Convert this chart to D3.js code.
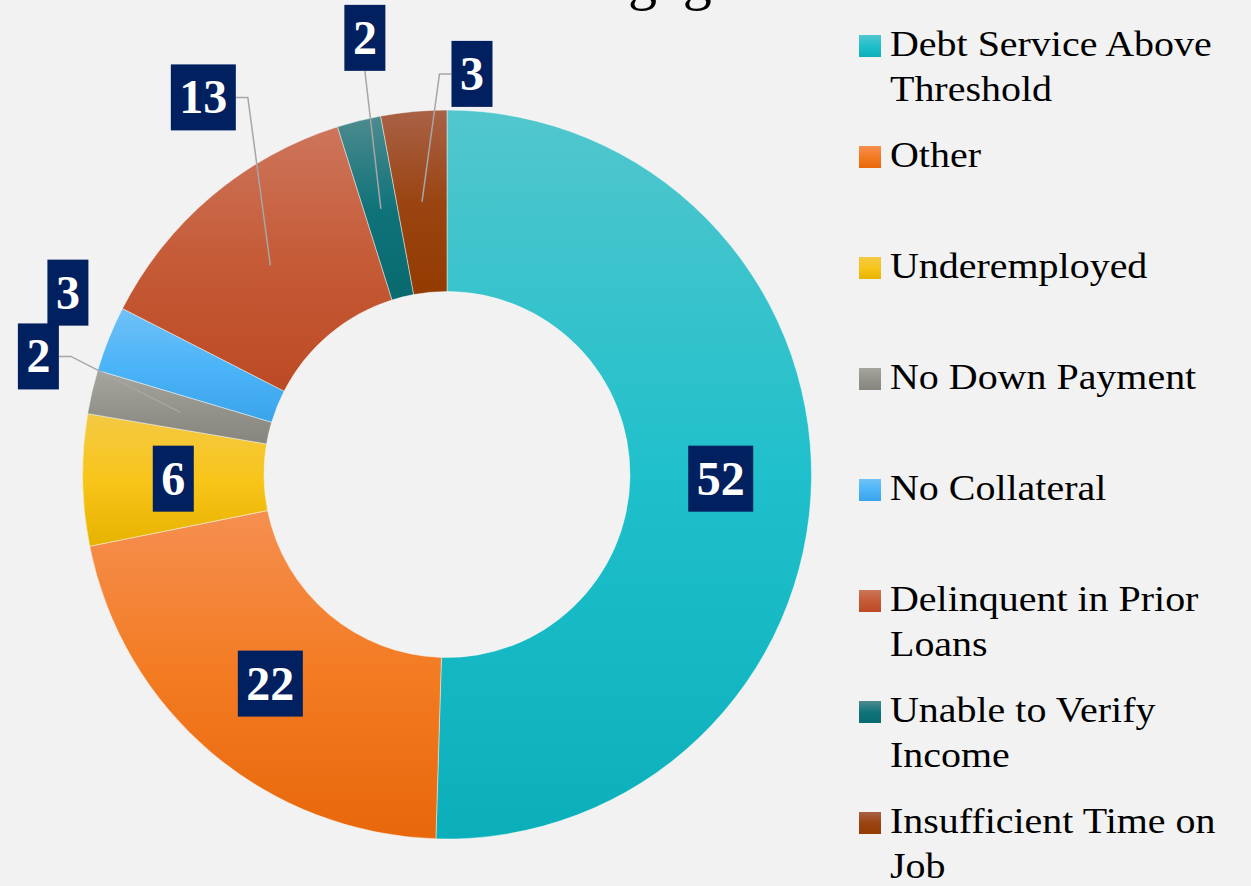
<!DOCTYPE html>
<html>
<head>
<meta charset="utf-8">
<script src="https://cdn.jsdelivr.net/npm/d3@7"></script>
<style>
  body { margin: 0; background: #f2f2f2; }
  svg { display: block; }
</style>
</head>
<body>
<script>
// chart data
const titleText = "Reasons for Mortgage Denials"
const legendLines = [
  ["Debt Service Above", "Threshold"],
  ["Other"],
  ["Underemployed"],
  ["No Down Payment"],
  ["No Collateral"],
  ["Delinquent in Prior", "Loans"],
  ["Unable to Verify", "Income"],
  ["Insufficient Time on", "Job"]
]
const categories = legendLines.map(l => l.join(" "))
const values = [52, 22, 6, 2, 3, 13, 2, 3]

// gradient colours per slice (top, middle, bottom)
const colorTop = ["#52c6cd", "#f58f50", "#f4c944", "#a6a59e", "#70c1f6", "#cd755c", "#4d8b8f", "#a96246"]
const colorMid = ["#1fc0cb", "#f37b22", "#f8c51a", "#94948c", "#4cb4f8", "#c55b37", "#10737a", "#9a4412"]
const colorBot = ["#0bafba", "#e8670b", "#e6b300", "#86867e", "#3aa4eb", "#bc4a24", "#086a6e", "#933b00"]

// manual offsets of the outside labels (from slice centroid)
const labelShift = [[0, 0], [0, 0], [0, 0], [-142, -56], [-125, -80], [-67, -168], [-16, -171], [50, -128]]
const showLeader = [false, false, false, true, false, true, true, true]

const width = 1251
const height = 886
const cx = 447
const cy = 474.5
const outerR = 364.5
const innerR = 183
const serif = "'Palatino Linotype', 'Book Antiqua', Palatino, 'Liberation Serif', serif"

let svg = d3.select('body')
  .append('svg')
  .attr('width', width)
  .attr('height', height)
  .style('background-color', '#f2f2f2')

let defs = svg.append('defs')
let grads = defs.selectAll('linearGradient')
  .data(values)
  .enter()
  .append('linearGradient')
  .attr('id', (d, i) => 'grad' + i)
  .attr('x1', 0).attr('y1', 0).attr('x2', 0).attr('y2', 1)
grads.append('stop').attr('offset', '0%').attr('stop-color', (d, i) => colorTop[i])
grads.append('stop').attr('offset', '50%').attr('stop-color', (d, i) => colorMid[i])
grads.append('stop').attr('offset', '100%').attr('stop-color', (d, i) => colorBot[i])

// title, mostly cut off above the top edge (as in the reference)
let title = svg.append('text')
  .attr('x', 0)
  .attr('y', -1)
  .style('font-family', serif)
  .style('font-size', '58px')
  .attr('fill', '#000')
  .text(titleText)
const gi = titleText.indexOf('gag')
const gx = title.node().getStartPositionOfChar(gi).x
title.attr('x', 628 - gx)

const pie = d3.pie().sort(null).value(d => d)
const arcs = pie(values)
const arc = d3.arc().innerRadius(innerR).outerRadius(outerR)

let chart = svg.append('g')
  .attr('transform', `translate(${cx},${cy})`)

chart.selectAll('path.slice')
  .data(arcs)
  .enter()
  .append('path')
  .attr('class', 'slice')
  .attr('d', arc)
  .attr('fill', (d, i) => `url(#grad${i})`)
  .attr('stroke', 'rgba(255,255,255,0.55)')
  .attr('stroke-width', 0.8)

// label boxes
const boxH = 66
const pad = 8.5
let labels = arcs.map((d, i) => {
  const c = arc.centroid(d)
  return { i: i, value: d.data, c: c, x: c[0] + labelShift[i][0], y: c[1] + labelShift[i][1] }
})

let leaders = chart.append('g')
let boxes = chart.append('g')

labels.forEach(l => {
  let g = boxes.append('g')
  let rect = g.append('rect').attr('fill', '#002060')
  let t = g.append('text')
    .attr('x', l.x)
    .attr('y', l.y + 16)
    .attr('text-anchor', 'middle')
    .style('font-family', serif)
    .style('font-size', '48px')
    .style('font-weight', 'bold')
    .attr('fill', '#fff')
    .text(l.value)
  const w = t.node().getComputedTextLength() + pad * 2
  const x0 = l.x - w / 2
  const x1 = l.x + w / 2
  rect.attr('x', x0).attr('y', l.y - boxH / 2).attr('width', w).attr('height', boxH)

  if (showLeader[l.i]) {
    let pts
    if (l.c[0] >= x0 && l.c[0] <= x1) {
      pts = [[l.x, l.y + boxH / 2], l.c]
    } else if (l.c[0] > x1) {
      pts = [[x1, l.y], [x1 + 12, l.y], l.c]
    } else {
      pts = [[x0, l.y], [x0 - 12, l.y], l.c]
    }
    leaders.append('path')
      .attr('d', d3.line()(pts))
      .attr('fill', 'none')
      .attr('stroke', '#a6a6a6')
      .attr('stroke-width', 1.5)
  }
})

// legend
const legX = 859
const legY0 = 56
const legStep = 111
const lineH = 45

let legend = svg.append('g')
  .attr('class', 'legend')

let items = legend.selectAll('g')
  .data(legendLines)
  .enter()
  .append('g')
  .attr('transform', (d, i) => `translate(${legX},${legY0 + i * legStep})`)

items.append('rect')
  .attr('x', 0)
  .attr('y', -21)
  .attr('width', 22)
  .attr('height', 22)
  .attr('fill', (d, i) => `url(#grad${i})`)

// Palatino is wider than the fallback serif, so stretch a little
items.append('text')
  .attr('transform', 'translate(31,0) scale(1.11,1)')
  .style('font-family', serif)
  .style('font-size', '36px')
  .attr('fill', '#000')
  .selectAll('tspan')
  .data(d => d)
  .enter()
  .append('tspan')
  .attr('x', 0)
  .attr('y', (d, j) => j * lineH)
  .text(d => d)
</script>
</body>
</html>
